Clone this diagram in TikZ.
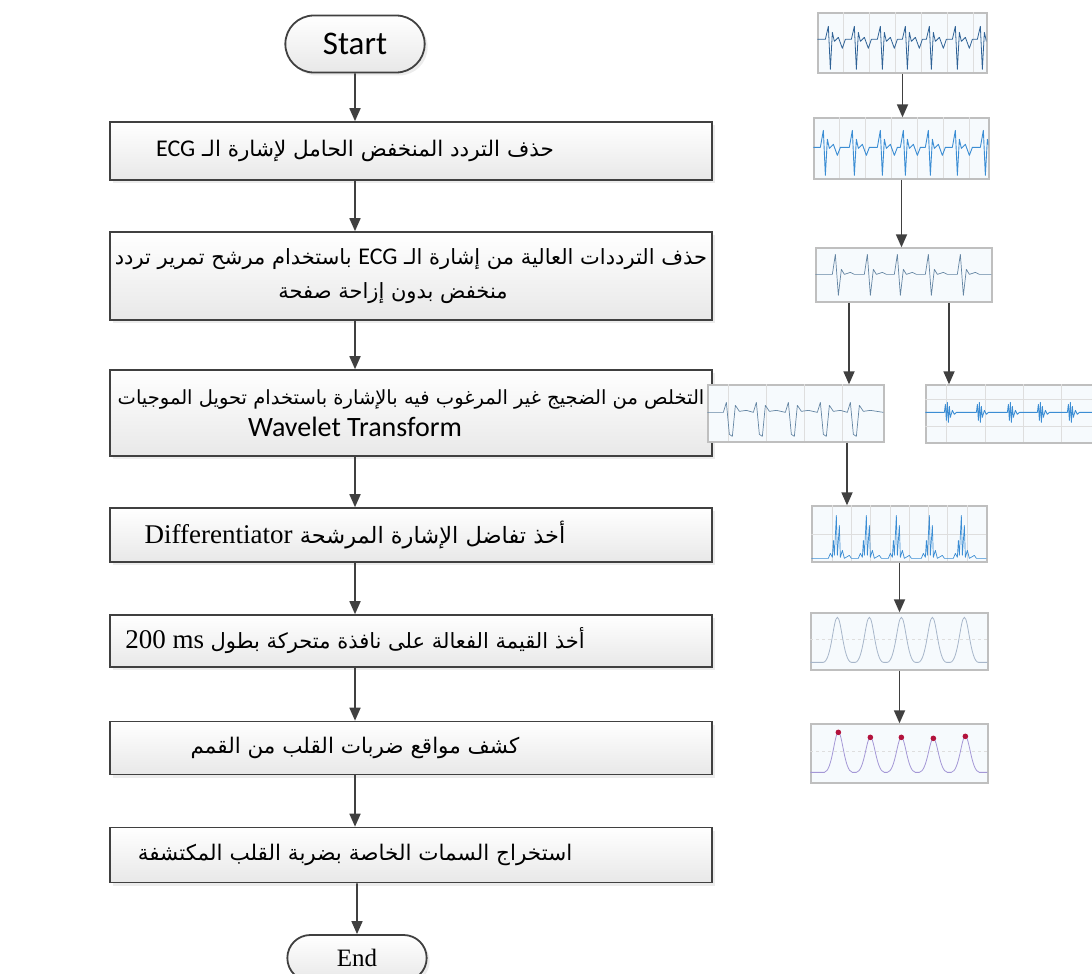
\documentclass[tikz,border=0pt]{standalone}
\usepackage{fontspec}
\usetikzlibrary{arrows.meta,shapes.misc,shadows}
\TeXXeTstate=1
\newfontfamily\arabicfont[Script=Arabic]{DejaVu Sans}
\newfontfamily\calibrifont{Carlito}
\newfontfamily\timesfont{Liberation Serif}
\newcommand{\rtltext}[1]{\beginR{#1}\endR}
\newcommand{\ltrtext}[1]{\beginL{#1}\endL{}}
\definecolor{linegray}{HTML}{404040}
\definecolor{ecgdark}{HTML}{2F6296}
\definecolor{ecgblue}{HTML}{3B8DD4}
\definecolor{ecggray}{HTML}{6485A3}
\definecolor{rmsgray}{HTML}{A7B6CA}
\definecolor{rmsviolet}{HTML}{A497D6}
\definecolor{peakred}{HTML}{B3123C}
\definecolor{thumbfill}{HTML}{F6FAFD}

\begin{document}
\begin{tikzpicture}[x=1pt,y=-1pt]
        \tikzstyle{process}=[rectangle,draw=linegray,line width=1.6pt,top color=white,bottom color=black!9,minimum width=602pt,inner sep=2pt,align=center,font=\fontsize{21.5}{34}\selectfont\arabicfont,drop shadow={shadow xshift=3pt,shadow yshift=-3pt,fill=black!15}]
        \tikzstyle{terminal}=[rounded rectangle,draw=linegray,line width=1.8pt,top color=white,bottom color=black!9,minimum width=146pt,minimum height=57pt,drop shadow={shadow xshift=3pt,shadow yshift=-3pt,fill=black!15}]
        \tikzstyle{thumb}=[rectangle,draw=black!25,line width=1.3pt,fill=thumbfill,inner sep=0pt]
        \tikzstyle{flow}=[draw=linegray,line width=1.7pt,-{Triangle[length=13pt,width=11pt]}]
        \tikzstyle{gridline}=[black!13,line width=0.5pt]

        \useasboundingbox (0,0) rectangle (1092,974);

       \begin{scope}
         % flow chart
         \node [terminal] (start) at (355,44) {\calibrifont\fontsize{33}{34}\selectfont Start};
         \node [process,minimum height=58pt] (p1) at (411,151) {\rtltext{حذف التردد المنخفض الحامل لإشارة الـ \ltrtext{\calibrifont\fontsize{24}{34}\selectfont ECG}}\hspace*{112pt}};
         \node [process,minimum height=88pt,font=\fontsize{21}{34}\selectfont\arabicfont] (p2) at (411,276) {\rtltext{حذف الترددات العالية من إشارة الـ \ltrtext{\calibrifont\fontsize{24}{34}\selectfont ECG} باستخدام مرشح تمرير تردد}\\ \rtltext{منخفض بدون إزاحة صفحة}\hspace*{36pt}\mbox{}};
         \node [process,minimum height=86pt,font=\fontsize{19.5}{32}\selectfont\arabicfont] (p3) at (411,413) {\rtltext{التخلص من الضجيج غير المرغوب فيه بالإشارة باستخدام تحويل الموجيات}\\ {\calibrifont\fontsize{28}{32}\selectfont Wavelet Transform}\hspace*{112pt}\mbox{}};
         \node [process,minimum height=54pt,font=\fontsize{22.5}{34}\selectfont\arabicfont] (p4) at (411,535) {\rtltext{أخذ تفاضل الإشارة المرشحة \ltrtext{\timesfont\fontsize{27}{30}\selectfont Differentiator}}\hspace*{112pt}};
         \node [process,minimum height=52pt,font=\fontsize{21}{34}\selectfont\arabicfont] (p5) at (411,641) {\rtltext{أخذ القيمة الفعالة على نافذة متحركة بطول \ltrtext{\timesfont\fontsize{27}{30}\selectfont 200 ms}}\hspace*{112pt}};
         \node [process,minimum height=53pt] (p6) at (411,748) {\rtltext{كشف مواقع ضربات القلب من القمم}\hspace*{112pt}};
         \node [process,minimum height=55pt] (p7) at (411,855) {\rtltext{استخراج السمات الخاصة بضربة القلب المكتشفة}\hspace*{112pt}};
         \node [terminal,minimum height=46pt] (stop) at (357,958) {\timesfont\fontsize{25}{26}\selectfont End};

         \path (start) edge[flow] (start |- p1.north);
         \path (p1.south -| start) edge[flow] (p2.north -| start);
         \path (p2.south -| start) edge[flow] (p3.north -| start);
         \path (p3.south -| start) edge[flow] (p4.north -| start);
         \path (p4.south -| start) edge[flow] (p5.north -| start);
         \path (p5.south -| start) edge[flow] (p6.north -| start);
         \path (p6.south -| start) edge[flow] (p7.north -| start);
         \path (p7.south -| stop) edge[flow] (stop);
       \end{scope}

       \begin{scope}
         % signal thumbnails
         \node [thumb,minimum width=169pt,minimum height=60pt] (t1) at (902.5,43) {};
         \node [thumb,minimum width=175pt,minimum height=61pt] (t2) at (901.5,148.5) {};
         \node [thumb,minimum width=176pt,minimum height=54pt] (t3) at (904,275) {};
         \node [thumb,minimum width=176pt,minimum height=57pt] (t4a) at (796,413.5) {};
         \node [thumb,minimum width=172pt,minimum height=58pt] (t4b) at (1012,414) {};
         \node [thumb,minimum width=175pt,minimum height=56pt] (t5) at (899.5,534) {};
         \node [thumb,minimum width=177pt,minimum height=57pt] (t6) at (899.5,641.5) {};
         \node [thumb,minimum width=177pt,minimum height=59pt] (t7) at (899.5,753.5) {};

         \begin{scope}[shift={(t1.north west)}]
           \clip (0,0) rectangle (169,60);
           \foreach \g in {26,52,...,156} \draw[gridline] (\g,0) -- (\g,60);
           \draw[ecgdark,line width=0.8pt,line join=round] (0,27) \foreach \bx in {13,39,65,90,114,140,165} { -- ({\bx-5},27) -- ({\bx-2},14) -- (\bx,57) -- ({\bx+2},20) -- ({\bx+4},29) -- ({\bx+8},25) -- ({\bx+12},36) -- ({\bx+15},27) } -- (169,27);
         \end{scope}
         \begin{scope}[shift={(t2.north west)}]
           \clip (0,0) rectangle (175,61);
           \foreach \g in {26,52,...,156} \draw[gridline] (\g,0) -- (\g,61);
           \draw[ecgblue,line width=0.9pt,line join=round] (0,30) \foreach \bx in {12,41,69,92,117,144,172} { -- ({\bx-5},30) -- ({\bx-2},13) -- (\bx,58) -- ({\bx+2},22) -- ({\bx+4},31) -- ({\bx+8},27) -- ({\bx+12},38) -- ({\bx+15},30) } -- (175,30);
         \end{scope}
         \begin{scope}[shift={(t3.north west)}]
           \clip (0,0) rectangle (176,54);
           \draw[ecggray,line width=0.7pt,line join=round] (0,27) \foreach \bx in {21,53,83,114,146} { -- ({\bx-4},27) -- ({\bx-1},7) -- ({\bx+2},48) -- ({\bx+5},22) -- ({\bx+8},27) -- ({\bx+14},25) -- ({\bx+18},27) } -- (176,27);
         \end{scope}
         \begin{scope}[shift={(t4a.north west)}]
           \clip (0,0) rectangle (176,57);
           \foreach \g in {21,59,97,135} \draw[gridline] (\g,0) -- (\g,57);
           \draw[ecggray,line width=0.7pt,line join=round] (0,28) \foreach \bx in {23,53,85,117,147} { -- ({\bx-7},28) -- ({\bx-4},18) -- ({\bx-1},50) -- ({\bx+2},52) -- ({\bx+5},21) -- ({\bx+9},27) -- ({\bx+16},26) } -- (176,28);
         \end{scope}
         \begin{scope}[shift={(t4b.north west)}]
           \clip (0,0) rectangle (172,58);
           \foreach \g in {21,60,98,136} \draw[gridline] (\g,0) -- (\g,58);
           \foreach \g in {15,42} \draw[gridline] (0,\g) -- (172,\g);
           \draw[ecgblue,line width=0.8pt,line join=round] (0,28) \foreach \bx in {21,53,84,114,144} { -- ({\bx-2},28) -- ({\bx-1},20) -- (\bx,36) -- ({\bx+1},18) -- ({\bx+2},38) -- ({\bx+3},22) -- ({\bx+4},33) -- ({\bx+6},26) -- ({\bx+8},30) -- ({\bx+10},28) } -- (172,28);
         \end{scope}
         \begin{scope}[shift={(t5.north west)}]
           \clip (0,0) rectangle (175,56);
           \foreach \g in {21,40,59,79,98,117,136,156} \draw[gridline] (\g,0) -- (\g,56);
           \draw[gridline] (0,29) -- (175,29);
           \draw[ecgblue,line width=0.7pt,line join=round] (0,53) \foreach \bx in {25,55,85,118,150} { -- ({\bx-8},53) -- ({\bx-6},48) -- ({\bx-4},52) -- ({\bx-3},35) -- ({\bx-2},50) -- (\bx,10) -- ({\bx+1},50) -- ({\bx+3},20) -- ({\bx+4},52) -- ({\bx+6},45) -- ({\bx+8},53) -- ({\bx+13},50) -- ({\bx+15},53) } -- (175,53);
         \end{scope}
         \begin{scope}[shift={(t6.north west)}]
           \clip (0,0) rectangle (177,57);
           \draw[gridline,dashed] (0,27) -- (177,27);
           \draw[rmsgray,line width=0.8pt] (0,50) \foreach \bx in {27,59,91,122,154} { -- ({\bx-14},50) .. controls ({\bx-6},49) and ({\bx-4},5) .. (\bx,5) .. controls ({\bx+4},5) and ({\bx+6},49) .. ({\bx+14},50) } -- (177,50);
         \end{scope}
         \begin{scope}[shift={(t7.north west)}]
           \clip (0,0) rectangle (177,59);
           \draw[gridline,dashed] (0,28) -- (177,28);
           \draw[rmsviolet,line width=0.8pt] (0,49) \foreach \bx/\ty in {28/9,60/14,91/14,123/15,155/13} { -- ({\bx-14},49) .. controls ({\bx-6},48) and ({\bx-4},\ty) .. (\bx,\ty) .. controls ({\bx+4},\ty) and ({\bx+6},48) .. ({\bx+14},49) } -- (177,49);
           \foreach \bx/\ty in {28/9,60/14,91/14,123/15,155/13} \fill[peakred] (\bx,\ty) circle[radius=2.8pt];
         \end{scope}

         \coordinate (t3l) at ([xshift=-55pt]t3.south);
         \coordinate (t3r) at ([xshift=45pt]t3.south);
         \coordinate (t4out) at ([xshift=51pt]t4a.south);
         \path (t1.south) edge[flow] (t1.south |- t2.north);
         \path (t2.south) edge[flow] (t2.south |- t3.north);
         \path (t3l) edge[flow] (t3l |- t4a.north);
         \path (t3r) edge[flow] (t3r |- t4b.north);
         \path (t4out) edge[flow] (t4out |- t5.north);
         \path (t5.south) edge[flow] (t5.south |- t6.north);
         \path (t6.south) edge[flow] (t6.south |- t7.north);
       \end{scope}
\end{tikzpicture}
\end{document}
